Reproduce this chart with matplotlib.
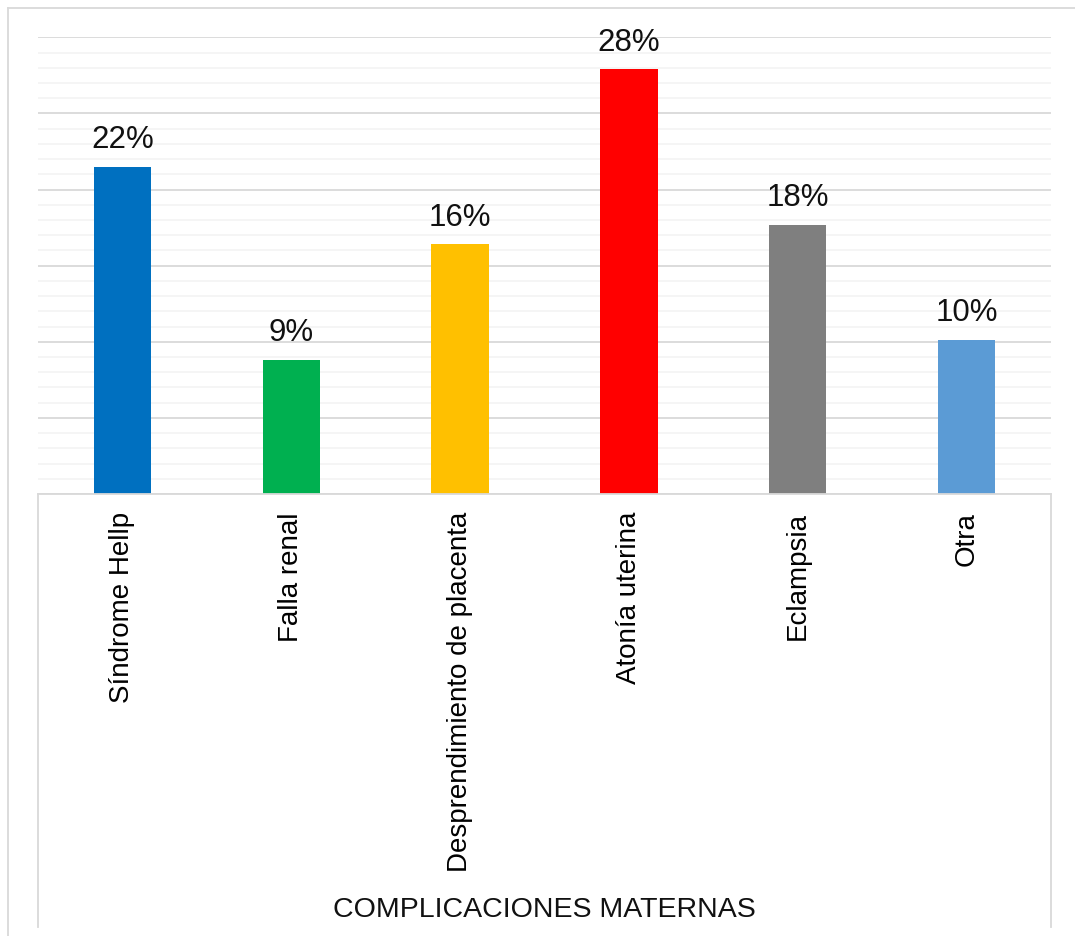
import matplotlib.pyplot as plt
from matplotlib.lines import Line2D
from matplotlib.ticker import MultipleLocator

plt.rcParams['font.family'] = ['Liberation Sans', 'DejaVu Sans']

categories = ["Síndrome Hellp", "Falla renal", "Desprendimiento de placenta",
              "Atonía uterina", "Eclampsia", "Otra"]
values = [21.5, 8.8, 16.4, 27.9, 17.7, 10.1]
value_labels = ["22%", "9%", "16%", "28%", "18%", "10%"]
colors = ["#0070C0", "#00B050", "#FFC000", "#FF0000", "#7F7F7F", "#5B9BD5"]
axis_title = "COMPLICACIONES MATERNAS"

W, H = 1075, 936
fig = plt.figure(figsize=(W / 100, H / 100), dpi=100)

# plot area in pixel coords of the reference
left, right, top, bottom = 38, 1051, 37.3, 494
ax = fig.add_axes([left / W, 1 - bottom / H, (right - left) / W, (bottom - top) / H])

x = list(range(len(categories)))
ax.bar(x, values, width=0.34, color=colors, zorder=3)
ax.set_xlim(-0.5, len(categories) - 0.5)
ax.set_ylim(0, 30)

ax.yaxis.set_major_locator(MultipleLocator(5))
ax.yaxis.set_minor_locator(MultipleLocator(1))
ax.grid(which='major', axis='y', color='#d9d9d9', lw=1.3, zorder=1)
ax.grid(which='minor', axis='y', color='#f2f2f2', lw=1.1, zorder=0)
ax.tick_params(axis='y', which='both', left=False, labelleft=False)

ax.set_xticks(x)
ax.set_xticklabels(categories, rotation=90, fontsize=20, va='top', ha='center')
ax.tick_params(axis='x', length=0, pad=13)

for s in ['top', 'left', 'right']:
    ax.spines[s].set_visible(False)
ax.spines['bottom'].set_color('#d9d9d9')
ax.spines['bottom'].set_linewidth(1.3)
ax.spines['bottom'].set_zorder(4)

for xi, v, lab in zip(x, values, value_labels):
    ax.annotate(lab, (xi, v), xytext=(0, 13.5), textcoords='offset points',
                ha='center', va='baseline', fontsize=22.5, color='#111111')

# category axis side lines and chart border
def pline(xs, ys, c='#d9d9d9', lw=1.3):
    fig.add_artist(Line2D([v / W for v in xs], [1 - v / H for v in ys],
                          color=c, lw=lw, transform=fig.transFigure))

pline([left, left], [bottom, 927])
pline([right, right], [bottom, 927])
pline([8, W], [8, 8])
pline([8, 8], [8, H])

fig.text(544 / W, 1 - 910 / H, axis_title, ha='center', va='center',
         fontsize=20.5, color='#111111')

fig.savefig('out.png', dpi=100)
